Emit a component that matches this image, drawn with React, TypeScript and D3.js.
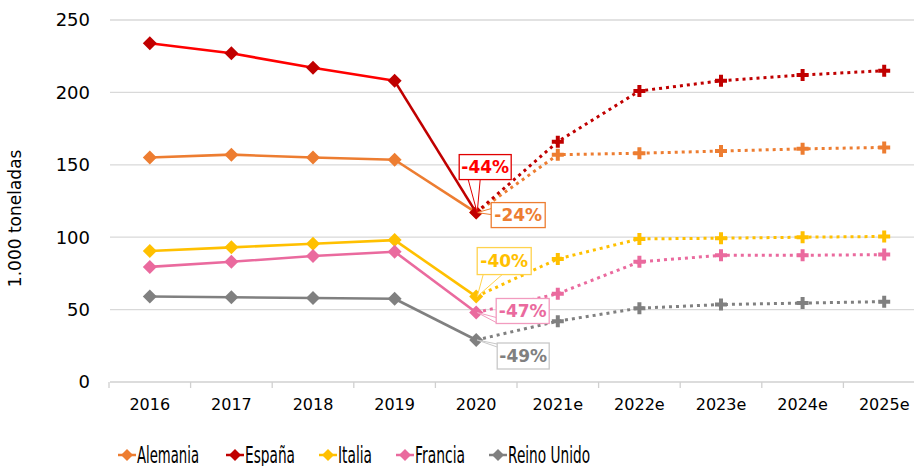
import React from "react";
import * as d3 from "d3";

// years; from index 5 onwards the values are estimates
const years = ["2016", "2017", "2018", "2019", "2020", "2021e", "2022e", "2023e", "2024e", "2025e"];
const yTicks = [0, 50, 100, 150, 200, 250];

const alemania = [155, 157, 155, 153.5, 117, 157, 158, 159.5, 161, 162];
const espana = [234, 227, 217, 208, 117, 166, 201, 208, 212, 215];
const italia = [90.5, 93, 95.5, 98, 59, 85, 98.8, 99.3, 100, 100.5];
const francia = [79.5, 83, 87, 90, 48, 61, 83, 87.5, 87.5, 88];
const reinoUnido = [59, 58.5, 58, 57.5, 29, 42, 51, 53.5, 54.5, 55.5];

const dropLabels = ["-24%", "-44%", "-40%", "-47%", "-49%"];

const series = [
  { name: "Alemania", values: alemania, color: "#ED7D31", marker: "#ED7D31", drop: dropLabels[0] },
  { name: "España", values: espana, color: "#FF0000", marker: "#C00000", drop: dropLabels[1] },
  { name: "Italia", values: italia, color: "#FFC000", marker: "#FFC000", drop: dropLabels[2] },
  { name: "Francia", values: francia, color: "#EA6A9E", marker: "#EA6A9E", drop: dropLabels[3] },
  { name: "Reino Unido", values: reinoUnido, color: "#808080", marker: "#808080", drop: dropLabels[4] },
];

// callout placement relative to the 2020 point: box offset/size and pointer base
const callouts: Record<string, any> = {
  "España": { bx: -17, by: -58, w: 52, h: 25, base: [[-8, -33], [4, -33]], border: "#E00000", text: "#FF0000" },
  "Alemania": { bx: 15, by: -10, w: 54, h: 25, base: [[15, -4], [15, 2]], border: "#ED7D31", text: "#ED7D31" },
  "Italia": { bx: 1, by: -49, w: 54, h: 27, base: [[7, -22], [26, -22]], border: "#FFD24D", text: "#FFC000" },
  "Francia": { bx: 20, by: -14, w: 53, h: 25, base: [[20, 5], [20, 10]], border: "#F29BBF", text: "#EA6A9E" },
  "Reino Unido": { bx: 21, by: 3, w: 52, h: 26, base: [[21, 4], [21, 7]], border: "#C8C8C8", text: "#808080" },
};

// legend: marker x and squeezed text width (the original font is a narrow one)
const legendX = [127, 235, 328, 405, 498];
const legendW = [62, 50, 34, 50, 82];

const diamond = "M0,-7L7,0L0,7L-7,0Z";
const cross = d3.symbol().type(d3.symbolCross).size(80)()!;

export default function App() {
  const width = 914;
  const height = 466;
  const font = "'DejaVu Sans', Verdana, sans-serif";

  const x = d3.scaleBand().domain(years).range([109, 925]).padding(0);
  const y = d3.scaleLinear().domain([0, 250]).range([382, 20]);
  const cx = (i: number) => (x(years[i]) as number) + x.bandwidth() / 2;

  const line = d3
    .line<number>()
    .x((d, i) => cx(i))
    .y((d) => y(d));

  const estStart = 4;

  return (
    <svg width={width} height={height} style={{ position: "absolute", left: 0, top: 0 }}>
      <rect width={width} height={height} fill="#fff" />
      {/* gridlines */}
      {yTicks.map((t) => (
        <g key={t}>
          <line x1={110} x2={925} y1={y(t)} y2={y(t)} stroke={t === 0 ? "#d0d0d0" : "#d9d9d9"} strokeWidth={1.3} />
          <text x={90} y={y(t)} dy="0.36em" textAnchor="end" fontFamily={font} fontSize={18} fill="#000">
            {t}
          </text>
        </g>
      ))}
      {/* x axis ticks */}
      {years.map((yr, i) => (
        <g key={yr}>
          <line x1={x(yr)} x2={x(yr)} y1={382} y2={388} stroke="#d0d0d0" strokeWidth={1.3} />
          <text x={cx(i)} y={410} textAnchor="middle" fontFamily={font} fontSize={16} fill="#000">
            {yr}
          </text>
        </g>
      ))}
      <text
        transform={`translate(21,${y(113)}) rotate(-90)`}
        textAnchor="middle"
        fontFamily={font}
        fontSize={17}
        fill="#000"
      >
        1.000 toneladas
      </text>

      {/* lines */}
      {series.map((s) => {
        const actual = s.values.slice(0, estStart + 1);
        const est = s.values.map((v, i) => (i >= estStart ? v : NaN));
        const estLine = d3
          .line<number>()
          .defined((d) => !isNaN(d))
          .x((d, i) => cx(i))
          .y((d) => y(d));
        return (
          <g key={s.name}>
            <path d={estLine(est) || ""} fill="none" stroke={s.marker} strokeWidth={3} strokeDasharray="3 4" />
            <path d={line(actual.slice(0, 4)) || ""} fill="none" stroke={s.color} strokeWidth={2.6} />
            <path
              d={`M${cx(3)},${y(actual[3])}L${cx(4)},${y(actual[4])}`}
              fill="none"
              stroke={s.marker}
              strokeWidth={2.6}
            />
          </g>
        );
      })}
      {/* markers */}
      {series.map((s) => (
        <g key={s.name + "m"}>
          {s.values.map((v, i) => (
            <path
              key={i}
              d={i <= estStart ? diamond : cross}
              transform={`translate(${cx(i)},${y(v)})`}
              fill={s.marker}
            />
          ))}
        </g>
      ))}

      {/* callouts */}
      {series.map((s) => {
        const c = callouts[s.name];
        const px = cx(estStart);
        const py = y(s.values[estStart]);
        return (
          <g key={s.name + "c"} transform={`translate(${px},${py})`}>
            <path
              d={`M${c.base[0][0]},${c.base[0][1]}L1,0L${c.base[1][0]},${c.base[1][1]}`}
              fill="#fff"
              stroke={c.border}
              strokeWidth={1}
            />
            <rect x={c.bx} y={c.by} width={c.w} height={c.h} fill="#fff" stroke={c.border} strokeWidth={1.3} />
            <text
              x={c.bx + c.w / 2}
              y={c.by + c.h / 2}
              dy="0.36em"
              textAnchor="middle"
              fontFamily={font}
              fontWeight="bold"
              fontSize={17}
              fill={c.text}
            >
              {s.drop}
            </text>
          </g>
        );
      })}

      {/* legend */}
      {series.map((s, i) => (
        <g key={s.name + "l"} transform={`translate(${legendX[i]},455)`}>
          <line x1={-9} x2={9} y1={0} y2={0} stroke={s.marker} strokeWidth={2.5} />
          <path d="M0,-6L6,0L0,6L-6,0Z" fill={s.marker} />
          <text
            x={10}
            y={0}
            dy="0.36em"
            fontFamily={font}
            fontSize={23}
            textLength={legendW[i]}
            lengthAdjust="spacingAndGlyphs"
            fill="#000"
          >
            {s.name}
          </text>
        </g>
      ))}
    </svg>
  );
}
